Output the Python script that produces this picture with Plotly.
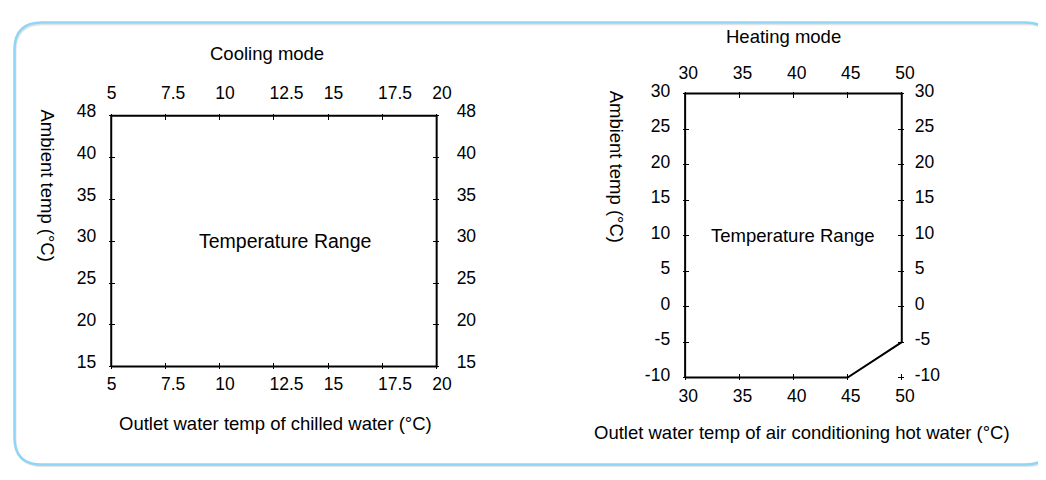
import plotly.graph_objects as go

# figure size; the page photo maps figure pixels to picture pixels with a
# small offset and scale, measured from earlier renders
FW, FH = 1030, 464
AX, SX = 13.76, 0.9827
AY, SY = 19.1, 0.962

# cooling mode data
cool_x_ticks = [5, 7.5, 10, 12.5, 15, 17.5, 20]
cool_y_ticks = [15, 20, 25, 30, 35, 40, 45]
cool_y_text = ["15", "20", "25", "30", "35", "40", "48"]
cool_x = [5, 5, 20, 20, 5]
cool_y = [15, 45, 45, 15, 15]

# heating mode data
heat_x_ticks = [30, 35, 40, 45, 50]
heat_y_ticks = [-10, -5, 0, 5, 10, 15, 20, 25, 30]
heat_x = [30, 30, 50, 50, 45, 30]
heat_y = [-10, 30, 30, -5, -10, -10]

FONT = "Liberation Sans, Arial, sans-serif"
TICK_FS = 17.5
TITLE_FS = 18.5


def fig_x(px):
    # picture pixel -> figure pixel
    return (px - AX) / SX


def fig_y(py):
    return (py - AY) / SY


def fx(px):
    return fig_x(px) / FW


def fy(py):
    return 1 - fig_y(py) / FH


def frame(px0, px1, py_top, py_bot, xlo, xhi, ylo, yhi, pad=2):
    # padded range + domain so the outline isn't clipped at the edges
    x0, x1 = fig_x(px0), fig_x(px1)
    y0, y1 = fig_y(py_top), fig_y(py_bot)
    xu = (xhi - xlo) / (x1 - x0)
    yu = (yhi - ylo) / (y1 - y0)
    xr = [xlo - pad * xu, xhi + pad * xu]
    yr = [ylo - pad * yu, yhi + pad * yu]
    xd = [(x0 - pad) / FW, (x1 + pad) / FW]
    yd = [1 - (y1 + pad) / FH, 1 - (y0 - pad) / FH]
    return xr, yr, xd, yd


c_xr, c_yr, c_xd, c_yd = frame(112, 437.5, 114, 365, 5, 20, 15, 45)
h_xr, h_yr, h_xd, h_yd = frame(686, 902.7, 91.7, 376, 30, 50, -10, 30)

tickfont = dict(family=FONT, size=TICK_FS, color="black")
common = dict(showgrid=False, zeroline=False, showline=False, ticks="inside",
              ticklen=6, tickwidth=1, tickcolor="black", tickfont=tickfont)

fig = go.Figure()

fig.add_trace(go.Scatter(x=cool_x, y=cool_y, mode="lines",
                         line=dict(color="black", width=2),
                         xaxis="x", yaxis="y", hoverinfo="skip"))
fig.add_trace(go.Scatter(x=cool_x, y=cool_y, mode="lines", opacity=0,
                         xaxis="x3", yaxis="y3", hoverinfo="skip"))
fig.add_trace(go.Scatter(x=heat_x, y=heat_y, mode="lines",
                         line=dict(color="black", width=2),
                         xaxis="x2", yaxis="y2", hoverinfo="skip"))
fig.add_trace(go.Scatter(x=heat_x, y=heat_y, mode="lines", opacity=0,
                         xaxis="x4", yaxis="y4", hoverinfo="skip"))

fig.update_layout(
    width=FW, height=FH,
    margin=dict(l=0, r=0, t=0, b=0),
    paper_bgcolor="white", plot_bgcolor="rgba(0,0,0,0)",
    showlegend=False,
    font=dict(family=FONT, size=TITLE_FS, color="black"),
    # cooling
    xaxis=dict(common, domain=c_xd, range=c_xr, anchor="y", side="bottom",
               tickvals=cool_x_ticks, ticktext=[str(v) for v in cool_x_ticks],
               ticklabelposition="outside right", ticklabelshift=-5,
               ticklabelstandoff=3),
    xaxis3=dict(common, overlaying="x", range=c_xr, anchor="y", side="top",
                tickvals=cool_x_ticks, ticktext=[str(v) for v in cool_x_ticks],
                ticklabelposition="outside right", ticklabelshift=-5,
                ticklabelstandoff=10),
    yaxis=dict(common, domain=c_yd, range=c_yr, anchor="x", side="left",
               tickvals=cool_y_ticks, ticktext=cool_y_text,
               ticklabelshift=-5, ticklabelstandoff=12),
    yaxis3=dict(common, overlaying="y", range=c_yr, anchor="x", side="right",
                tickvals=cool_y_ticks, ticktext=cool_y_text,
                ticklabelshift=-5, ticklabelstandoff=17),
    # heating
    xaxis2=dict(common, domain=h_xd, range=h_xr, anchor="y2", side="bottom",
                tickvals=heat_x_ticks, ticktext=[str(v) for v in heat_x_ticks],
                ticklabelposition="outside right", ticklabelshift=-7,
                ticklabelstandoff=4),
    xaxis4=dict(common, overlaying="x2", range=h_xr, anchor="y2", side="top",
                tickvals=heat_x_ticks, ticktext=[str(v) for v in heat_x_ticks],
                ticklabelposition="outside right", ticklabelshift=-7,
                ticklabelstandoff=8),
    yaxis2=dict(common, domain=h_yd, range=h_yr, anchor="x2", side="left",
                tickvals=heat_y_ticks, ticktext=[str(v) for v in heat_y_ticks],
                ticklabelshift=-3, ticklabelstandoff=12),
    yaxis4=dict(common, overlaying="y2", range=h_yr, anchor="x2", side="right",
                tickvals=heat_y_ticks, ticktext=[str(v) for v in heat_y_ticks],
                ticklabelshift=-3, ticklabelstandoff=10),
)


def label(text, x, y, xref="paper", yref="paper", angle=0, size=TITLE_FS):
    if xref == "paper":
        x, y = fx(x), fy(y)
    fig.add_annotation(text=text, x=x, y=y, xref=xref, yref=yref,
                       showarrow=False, textangle=angle,
                       xanchor="center", yanchor="middle",
                       font=dict(family=FONT, size=size, color="black"))


label("Cooling mode", 268, 52)
label("Ambient temp (°C)", 48, 184, angle=90)
label("Temperature Range", 13, 30, xref="x", yref="y", size=19.5)
label("Outlet water temp of chilled water (°C)", 276, 422)

label("Heating mode", 784, 35)
label("Ambient temp (°C)", 617, 165, angle=90)
label("Temperature Range", 40, 10, xref="x2", yref="y2")
label("Outlet water temp of air conditioning hot water (°C)", 803, 431)


# rounded panel border, kept inside the drawable figure area (figure pixels)
def rounded(x0, y0, x1, y1, r):
    X = lambda v: v / FW
    Y = lambda v: 1 - v / FH
    return (f"M {X(x0 + r)},{Y(y0)} L {X(x1 - r)},{Y(y0)} "
            f"Q {X(x1)},{Y(y0)} {X(x1)},{Y(y0 + r)} "
            f"L {X(x1)},{Y(y1 - r)} Q {X(x1)},{Y(y1)} {X(x1 - r)},{Y(y1)} "
            f"L {X(x0 + r)},{Y(y1)} Q {X(x0)},{Y(y1)} {X(x0)},{Y(y1 - r)} "
            f"L {X(x0)},{Y(y0 + r)} Q {X(x0)},{Y(y0)} {X(x0 + r)},{Y(y0)} Z")


fig.add_shape(type="path", path=rounded(2.5, 3.5, 1060, 463, 28), xref="paper", yref="paper",
              line=dict(color="#e2e2e2", width=2), layer="below")
fig.add_shape(type="path", path=rounded(1.5, 1.5, 1058, 461.5, 28), xref="paper", yref="paper",
              line=dict(color="#8fd6f6", width=2.5), layer="below")

fig.write_html("out.html")
